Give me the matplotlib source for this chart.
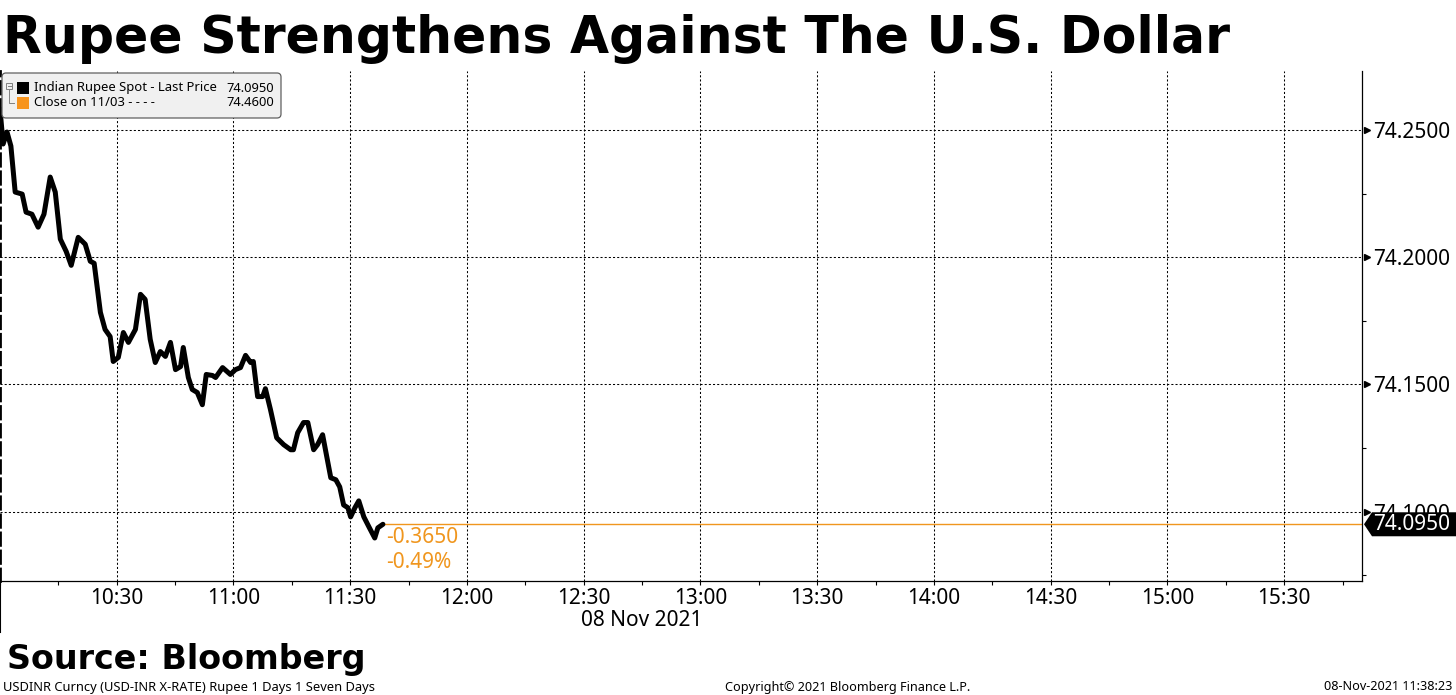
"""Rupee Strengthens Against The U.S. Dollar - USDINR intraday, 08 Nov 2021"""
import matplotlib
matplotlib.use("Agg")
import matplotlib.pyplot as plt
import matplotlib.transforms as mtransforms
from matplotlib.patches import Polygon, Rectangle, FancyBboxPatch
from matplotlib.lines import Line2D
from matplotlib.ticker import FixedLocator, MultipleLocator

# minutes after 10:00
minutes = [0.0, 0.8, 1.8, 2.8, 3.9, 5.7, 6.7, 8.2, 9.8, 11.3,
           12.9, 14.2, 15.5, 17.0, 18.3, 20.1, 21.9, 23.2, 24.2, 25.8,
           27.0, 28.3, 29.1, 30.4, 31.7, 33.0, 34.8, 36.1, 37.3, 38.6,
           39.9, 41.2, 42.5, 43.8, 45.1, 46.4, 47.1, 48.4, 49.4, 50.7,
           52.0, 53.0, 54.6, 55.4, 57.2, 59.2, 60.5, 61.8, 63.1, 64.4,
           65.1, 66.2, 67.5, 68.2, 69.5, 71.1, 72.9, 74.7, 75.4, 76.5,
           78.0, 79.1, 80.6, 81.6, 82.9, 85.0, 86.3, 87.3, 88.3, 89.4,
           90.1, 91.2, 92.2, 93.5, 94.8, 96.3, 97.1, 98.4]
prices = [74.2583, 74.2445, 74.2492, 74.2437, 74.2256, 74.2248, 74.2177, 74.2169, 74.2118, 74.2169,
          74.2315, 74.2256, 74.2071, 74.2023, 74.1968, 74.2078, 74.2051, 74.1984, 74.1976, 74.1783,
          74.1716, 74.1688, 74.1590, 74.1606, 74.1704, 74.1665, 74.1716, 74.1854, 74.1834, 74.1677,
          74.1586, 74.1629, 74.1610, 74.1665, 74.1558, 74.1570, 74.1645, 74.1527, 74.1480, 74.1468,
          74.1420, 74.1539, 74.1535, 74.1527, 74.1566, 74.1539, 74.1558, 74.1566, 74.1614, 74.1586,
          74.1590, 74.1452, 74.1452, 74.1483, 74.1401, 74.1290, 74.1263, 74.1243, 74.1243, 74.1310,
          74.1350, 74.1350, 74.1243, 74.1263, 74.1302, 74.1133, 74.1125, 74.1097, 74.1026, 74.1015,
          74.0979, 74.1015, 74.1042, 74.0979, 74.0940, 74.0896, 74.0936, 74.0950]

last_price = 74.0950
prev_close = 74.4600
net_change = -0.3650
pct_change = -0.49

x_ticks = [30, 60, 90, 120, 150, 180, 210, 240, 270, 300, 330]
x_labels = ["10:30", "11:00", "11:30", "12:00", "12:30", "13:00",
            "13:30", "14:00", "14:30", "15:00", "15:30"]
y_ticks = [74.10, 74.15, 74.20, 74.25]

ORANGE = "#f0961e"
W, H = 1456, 695


def main():
    plt.rcParams["font.family"] = ["Noto Sans", "DejaVu Sans"]

    fig = plt.figure(figsize=(W / 100, H / 100), dpi=100)
    # pixel coords with origin at top-left
    pix = mtransforms.Affine2D().scale(1, -1).translate(0, H)

    ax = fig.add_axes([0, 1 - 581 / H, 1362 / W, (581 - 71) / H])
    ax.set_xlim(0, 350)
    ax.set_ylim(74.0727, 74.2732)

    ax.plot(minutes, prices, color="black", lw=3.6, solid_joinstyle="round",
            solid_capstyle="round", zorder=3)
    ax.hlines(last_price, minutes[-1], 350, color=ORANGE, lw=1.0, zorder=2)

    # change annotations
    ax.annotate(f"{net_change:.4f}", xy=(minutes[-1], last_price), xytext=(2, -9.5),
                textcoords="offset points", ha="left", va="center",
                color=ORANGE, fontsize=15)
    ax.annotate(f"{pct_change:.2f}%", xy=(minutes[-1], last_price), xytext=(2, -27.5),
                textcoords="offset points", ha="left", va="center",
                color=ORANGE, fontsize=15)

    # axes styling
    ax.spines["top"].set_visible(False)
    ax.spines["right"].set_linewidth(0.9)
    ax.spines["bottom"].set_linewidth(0.9)
    ax.spines["left"].set_linewidth(2.0)
    ax.spines["left"].set_linestyle((0, (4.5, 2)))

    ax.xaxis.set_major_locator(FixedLocator(x_ticks))
    ax.set_xticklabels(x_labels)
    ax.xaxis.set_minor_locator(MultipleLocator(15))
    ax.tick_params(axis="x", which="both", direction="out", length=3, width=0.8,
                   labelsize=15, pad=2)

    ax.yaxis.tick_right()
    ax.yaxis.set_major_locator(FixedLocator(y_ticks))
    ax.set_yticklabels([f"{v:.4f}" for v in y_ticks])
    ax.yaxis.set_minor_locator(MultipleLocator(0.025))
    ax.tick_params(axis="y", which="major", length=0, labelsize=15, pad=8)
    ax.tick_params(axis="y", which="minor", direction="out", length=3, width=0.8)

    ax.grid(True, which="major", color="black", linestyle=(0, (2, 2)), linewidth=0.75)

    # small arrow heads at the y ticks
    ax.plot([1.0035] * len(y_ticks), y_ticks, marker=">", ms=5, color="black",
            lw=0, transform=ax.get_yaxis_transform(), clip_on=False)

    # day separator tick below the axis
    ax.plot([0, 0], [0, -(632 - 581) / (581 - 71)], color="black", lw=1.5,
            transform=ax.transAxes, clip_on=False)

    fig.text(642, 620, "08 Nov 2021", transform=pix, ha="center", va="center", fontsize=15)

    # last price tag on the right axis
    fig.canvas.draw()
    xd, yd = ax.transData.transform((350, last_price))
    yc = H - yd
    tip = xd + 2
    tag = Polygon([(tip, yc), (tip + 8, yc - 12), (W, yc - 12), (W, yc + 12), (tip + 8, yc + 12)],
                  closed=True, facecolor="black", edgecolor="none", transform=pix)
    fig.add_artist(tag)
    fig.text(1373, yc, f"{last_price:.4f}", transform=pix, color="white",
             ha="left", va="center", fontsize=15)

    # legend box
    box = FancyBboxPatch((2, 73), 279, 45, boxstyle="round,pad=0,rounding_size=4",
                         facecolor="#f0f0f0", edgecolor="#606060", lw=0.9, transform=pix)
    fig.add_artist(box)
    grey = "#808080"
    fig.add_artist(Rectangle((6, 83), 6, 6, fill=False, edgecolor=grey, lw=0.7, transform=pix))
    fig.add_artist(Line2D([7.5, 10.5], [86, 86], color=grey, lw=0.7, transform=pix))
    fig.add_artist(Line2D([9, 9, 14], [89, 103, 103], color=grey, lw=0.7, transform=pix))
    fig.add_artist(Rectangle((17, 82), 12, 12, facecolor="black", edgecolor="none", transform=pix))
    fig.add_artist(Rectangle((17, 97), 12, 12, facecolor="#f7941d", edgecolor="none", transform=pix))
    fig.text(34, 88, "Indian Rupee Spot - Last Price", transform=pix, ha="left", va="center",
             fontsize=9.4)
    fig.text(274, 88, f"{last_price:.4f}", transform=pix, ha="right", va="center", fontsize=9.3)
    fig.text(34, 103, "Close on 11/03 - - - -", transform=pix, ha="left", va="center",
             fontsize=9.4)
    fig.text(274, 103, f"{prev_close:.4f}", transform=pix, ha="right", va="center", fontsize=9.3)

    # titles and footers
    fig.text(3, 53, "Rupee Strengthens Against The U.S. Dollar", transform=pix,
             ha="left", va="baseline", fontsize=36.4, fontweight="bold", family="DejaVu Sans")
    fig.text(7, 669, "Source: Bloomberg", transform=pix, ha="left", va="baseline",
             fontsize=24, fontweight="bold", family="DejaVu Sans")
    fig.text(3, 687, "USDINR Curncy (USD-INR X-RATE) Rupee 1 Days 1 Seven Days", transform=pix,
             ha="left", va="center", fontsize=9.3)
    fig.text(848, 687, "Copyright\u00a9 2021 Bloomberg Finance L.P.", transform=pix,
             ha="center", va="center", fontsize=9.1)
    fig.text(1452, 687, "08-Nov-2021 11:38:23", transform=pix, ha="right", va="center",
             fontsize=9.1)

    fig.savefig("out.png", dpi=100, facecolor="white")


if __name__ == "__main__":
    main()
